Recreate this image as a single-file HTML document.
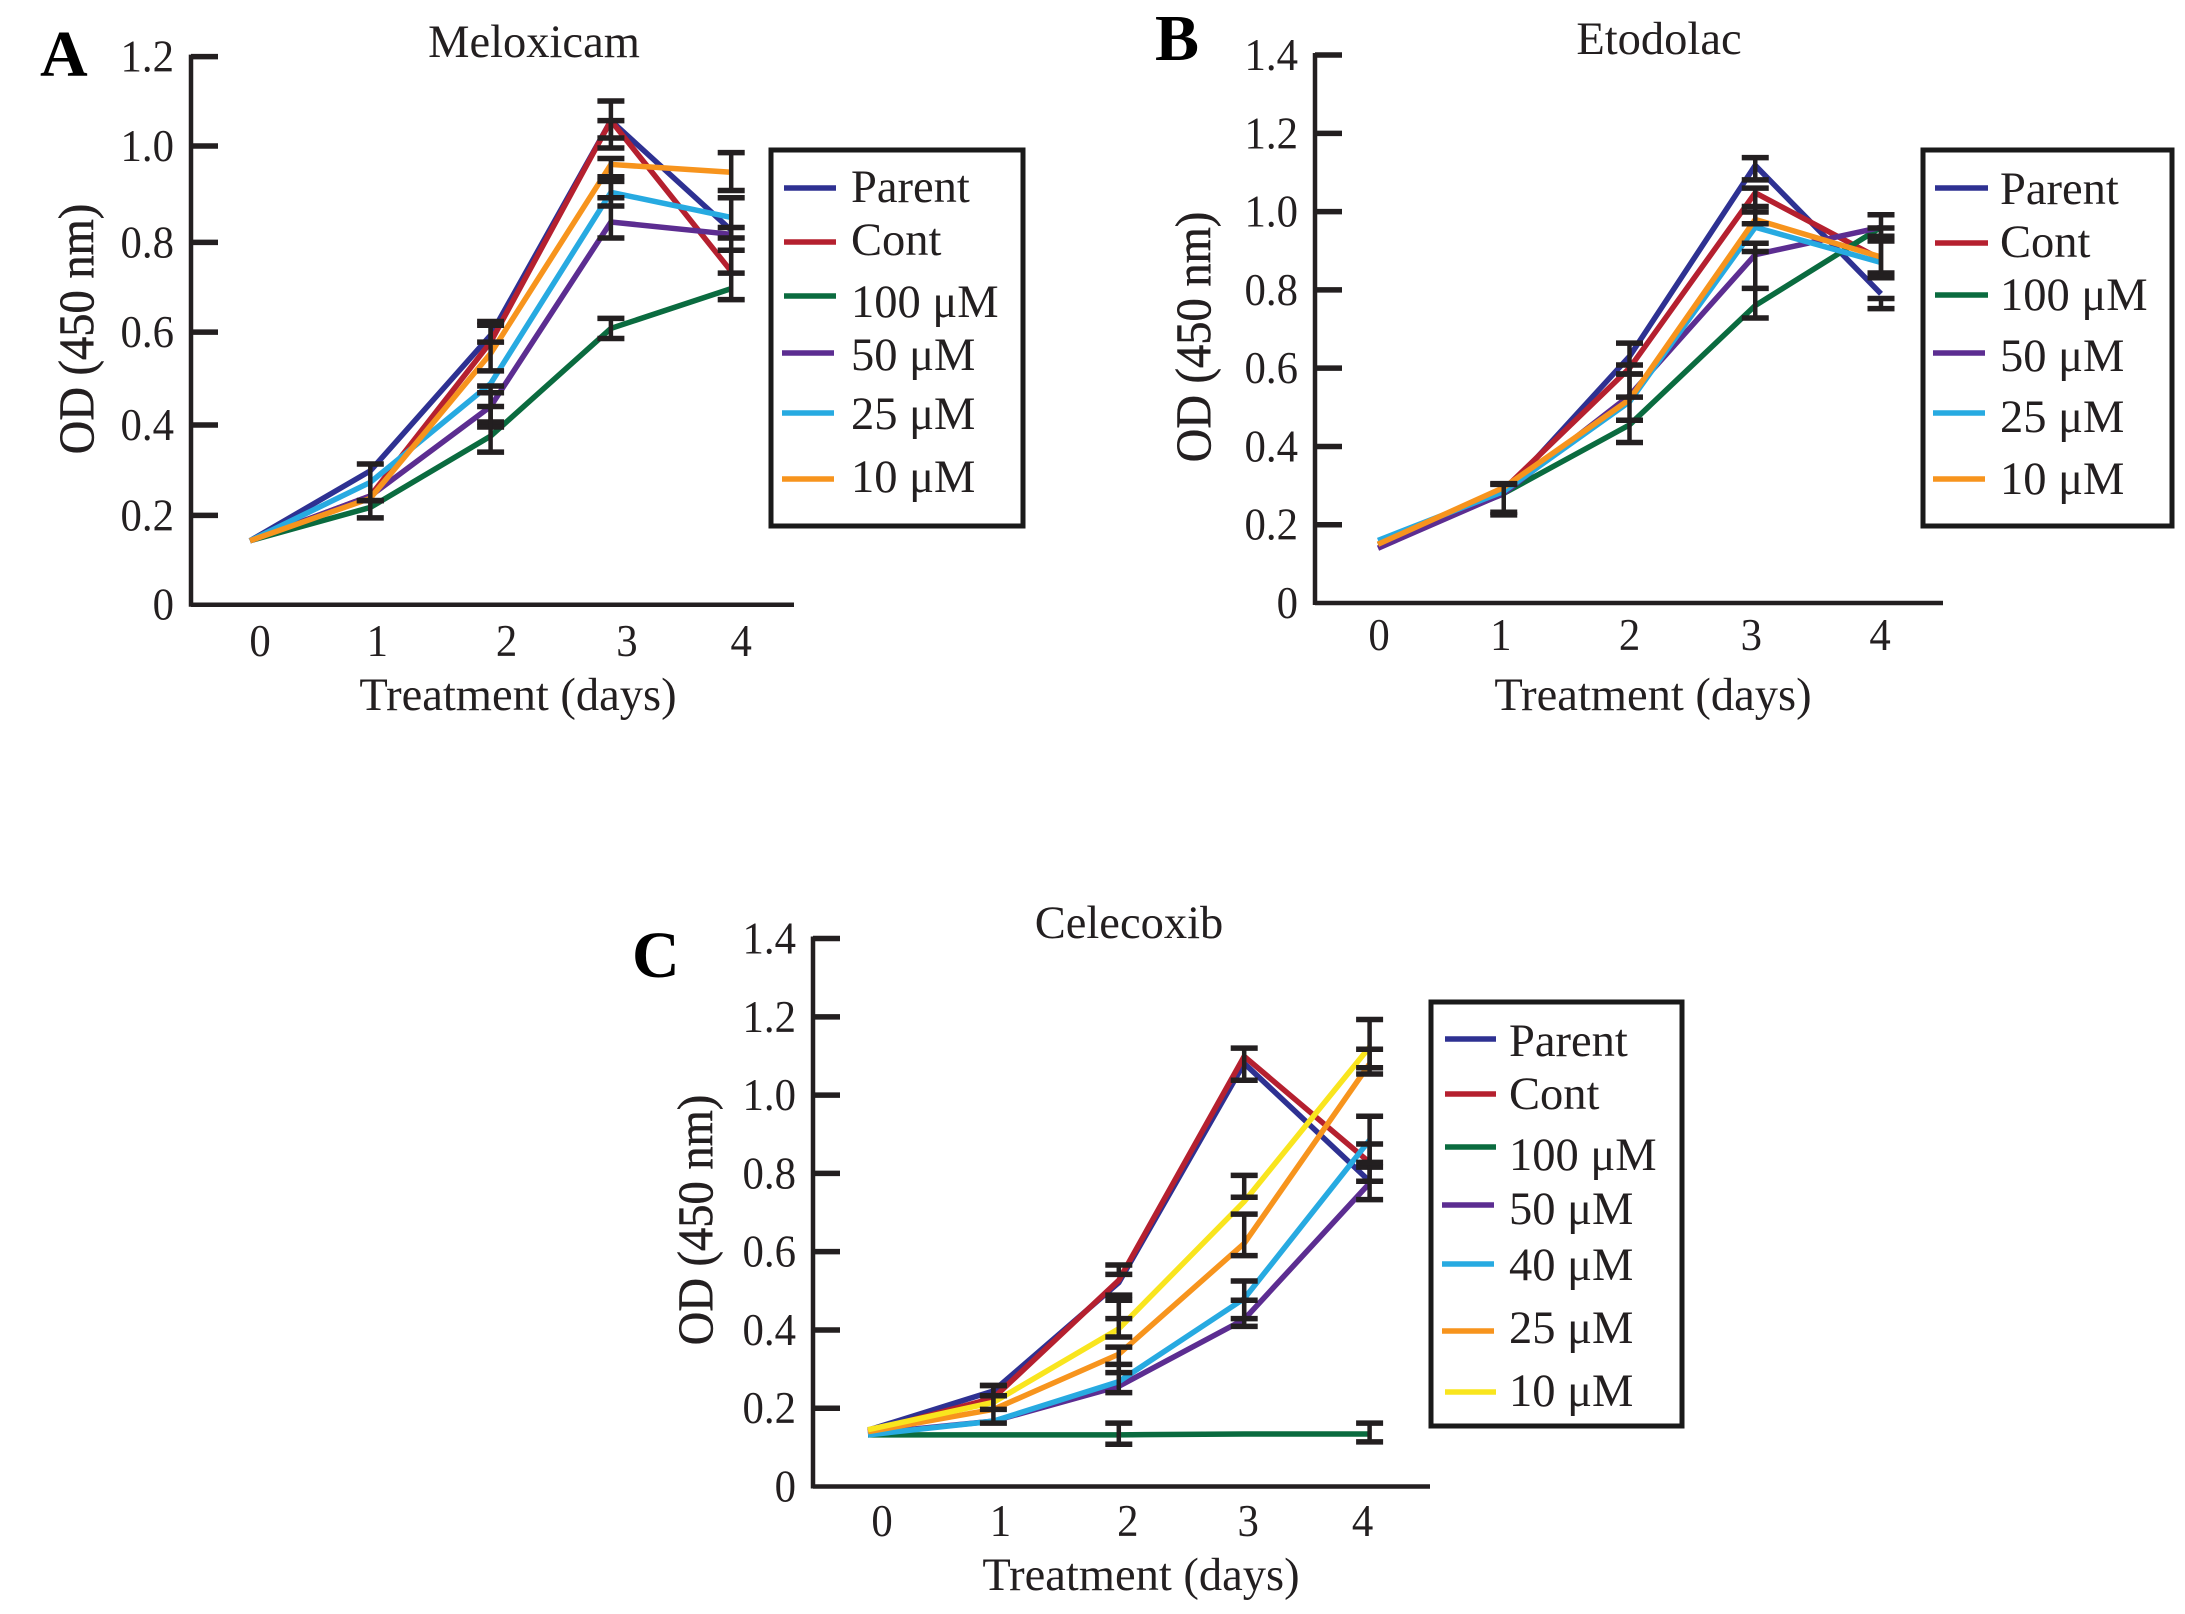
<!DOCTYPE html>
<html lang="en">
<head>
<meta charset="utf-8">
<title>OD growth curves: Meloxicam, Etodolac, Celecoxib</title>
<style>
html,body{margin:0;padding:0;background:#fff;}
svg{display:block;width:2185px;height:1614px;font-family:"Liberation Serif",serif;fill:#231f20;}
.tl{font-size:46px;}
.lg{font-size:46.5px;}
.ti{font-size:46.5px;}
.ax{font-size:46.5px;}
.yt{font-size:46.5px;stroke:#231f20;stroke-width:.5;}
.pn{font-size:66px;font-weight:bold;fill:#000;}
.box{fill:none;stroke:#1a1a1a;stroke-width:5;}
.sw{stroke-width:5.5;fill:none;}
</style>
</head>
<body>
<svg id="figure" xmlns="http://www.w3.org/2000/svg" width="2185" height="1614" viewBox="0 0 2185 1614">
  <rect width="2185" height="1614" fill="#fff"/>

  <g id="panel-a">
    <text class="pn" x="40" y="76">A</text>
    <text class="ti" x="534" y="57" text-anchor="middle">Meloxicam</text>
    <text class="ax" x="518" y="710" text-anchor="middle">Treatment (days)</text>
    <text class="yt" transform="translate(93 329) rotate(-90) scale(1,1.08)" text-anchor="middle">OD (450 nm)</text>
    <g>
      <rect class="box" x="771" y="150" width="252" height="376"/>
      <line class="sw" x1="784" x2="836" y1="188" y2="188" stroke="#2e3192"/>
      <text class="lg" x="851" y="202">Parent</text>
      <line class="sw" x1="784" x2="836" y1="242" y2="242" stroke="#b5202f"/>
      <text class="lg" x="851" y="255">Cont</text>
      <line class="sw" x1="784" x2="836" y1="296" y2="296" stroke="#0a6b3f"/>
      <text class="lg" x="851" y="317">100 μM</text>
      <line class="sw" x1="782" x2="834" y1="353" y2="353" stroke="#5c2d91"/>
      <text class="lg" x="851" y="370">50 μM</text>
      <line class="sw" x1="782" x2="834" y1="413" y2="413" stroke="#27aae1"/>
      <text class="lg" x="851" y="429">25 μM</text>
      <line class="sw" x1="782" x2="834" y1="479" y2="479" stroke="#f7941d"/>
      <text class="lg" x="851" y="492">10 μM</text>
    </g>
  </g>

  <g id="panel-b">
    <text class="pn" x="1155" y="60">B</text>
    <text class="ti" x="1659" y="54" text-anchor="middle">Etodolac</text>
    <text class="ax" x="1653" y="710" text-anchor="middle">Treatment (days)</text>
    <text class="yt" transform="translate(1210 337) rotate(-90) scale(1,1.08)" text-anchor="middle">OD (450 nm)</text>
    <g>
      <rect class="box" x="1923" y="150" width="249" height="376"/>
      <line class="sw" x1="1935" x2="1988" y1="188" y2="188" stroke="#2e3192"/>
      <text class="lg" x="2000" y="204">Parent</text>
      <line class="sw" x1="1935" x2="1988" y1="243" y2="243" stroke="#b5202f"/>
      <text class="lg" x="2000" y="257">Cont</text>
      <line class="sw" x1="1935" x2="1988" y1="295" y2="295" stroke="#0a6b3f"/>
      <text class="lg" x="2000" y="310">100 μM</text>
      <line class="sw" x1="1933" x2="1985" y1="353" y2="353" stroke="#5c2d91"/>
      <text class="lg" x="2000" y="371">50 μM</text>
      <line class="sw" x1="1933" x2="1985" y1="413" y2="413" stroke="#27aae1"/>
      <text class="lg" x="2000" y="432">25 μM</text>
      <line class="sw" x1="1933" x2="1985" y1="479" y2="479" stroke="#f7941d"/>
      <text class="lg" x="2000" y="494">10 μM</text>
    </g>
  </g>

  <g id="panel-c">
    <text class="pn" x="632" y="977">C</text>
    <text class="ti" x="1129" y="938" text-anchor="middle">Celecoxib</text>
    <text class="ax" x="1141" y="1590" text-anchor="middle">Treatment (days)</text>
    <text class="yt" transform="translate(712 1220) rotate(-90) scale(1,1.08)" text-anchor="middle">OD (450 nm)</text>
    <g>
      <rect class="box" x="1431" y="1002" width="251" height="424"/>
      <line class="sw" x1="1445" x2="1496" y1="1039" y2="1039" stroke="#2e3192"/>
      <text class="lg" x="1509" y="1056">Parent</text>
      <line class="sw" x1="1445" x2="1496" y1="1094" y2="1094" stroke="#b5202f"/>
      <text class="lg" x="1509" y="1109">Cont</text>
      <line class="sw" x1="1445" x2="1496" y1="1147" y2="1147" stroke="#0a6b3f"/>
      <text class="lg" x="1509" y="1170">100 μM</text>
      <line class="sw" x1="1442" x2="1494" y1="1205" y2="1205" stroke="#5c2d91"/>
      <text class="lg" x="1509" y="1224">50 μM</text>
      <line class="sw" x1="1442" x2="1494" y1="1264" y2="1264" stroke="#27aae1"/>
      <text class="lg" x="1509" y="1280">40 μM</text>
      <line class="sw" x1="1442" x2="1494" y1="1331" y2="1331" stroke="#f7941d"/>
      <text class="lg" x="1509" y="1343">25 μM</text>
      <line class="sw" x1="1445" x2="1496" y1="1392" y2="1392" stroke="#f9e51e"/>
      <text class="lg" x="1509" y="1406">10 μM</text>
    </g>
  </g>
</svg>

<script>
// Shared axis labels
const days = [0, 1, 2, 3, 4];
const ticksToOnePointTwo = [0, 0.2, 0.4, 0.6, 0.8, 1.0, 1.2];
const ticksToOnePointFour = [0, 0.2, 0.4, 0.6, 0.8, 1.0, 1.2, 1.4];

// Panel A: Meloxicam
const aParent = [0.14, 0.293, 0.59, 1.06, 0.82];
const aCont = [0.14, 0.238, 0.575, 1.06, 0.73];
const a100 = [0.14, 0.213, 0.369, 0.605, 0.692];
const a50 = [0.14, 0.238, 0.434, 0.838, 0.811];
const a25 = [0.14, 0.268, 0.484, 0.903, 0.848];
const a10 = [0.14, 0.233, 0.55, 0.964, 0.947];
const aBarDays = [1, 1, 2, 2, 2, 2, 2, 3, 3, 3, 3, 3, 3, 4, 4, 4, 4];
const aBarHigh = [0.308, 0.228, 0.62, 0.612, 0.479, 0.464, 0.434, 1.103, 1.06, 0.977, 0.937, 0.927, 0.627, 0.99, 0.891, 0.826, 0.776];
const aBarLow = [0.228, 0.19, 0.512, 0.575, 0.40, 0.389, 0.334, 1.022, 1.0, 0.891, 0.873, 0.803, 0.583, 0.907, 0.803, 0.726, 0.668];

// Panel B: Etodolac
const bParent = [0.15, 0.279, 0.63, 1.118, 0.79];
const bCont = [0.15, 0.29, 0.60, 1.048, 0.878];
const b100 = [0.15, 0.28, 0.455, 0.76, 0.96];
const b50 = [0.14, 0.28, 0.53, 0.89, 0.96];
const b25 = [0.16, 0.285, 0.514, 0.96, 0.87];
const b10 = [0.15, 0.295, 0.52, 0.98, 0.884];
const bBarDays = [1, 1, 2, 2, 2, 2, 3, 3, 3, 3, 3, 4, 4, 4, 4];
const bBarHigh = [0.305, 0.303, 0.664, 0.608, 0.585, 0.467, 1.138, 1.06, 1.013, 0.919, 0.898, 0.992, 0.958, 0.937, 0.778];
const bBarLow = [0.225, 0.232, 0.585, 0.526, 0.467, 0.41, 1.081, 0.999, 0.969, 0.804, 0.728, 0.925, 0.843, 0.831, 0.752];

// Panel C: Celecoxib
const cParent = [0.144, 0.244, 0.521, 1.081, 0.78];
const cCont = [0.14, 0.226, 0.527, 1.099, 0.828];
const c100 = [0.132, 0.132, 0.132, 0.134, 0.134];
const c50 = [0.135, 0.167, 0.256, 0.427, 0.775];
const c40 = [0.132, 0.167, 0.268, 0.48, 0.885];
const c25 = [0.14, 0.197, 0.338, 0.621, 1.08];
const c10 = [0.145, 0.215, 0.403, 0.728, 1.123];
const cBarDays = [1, 1, 1, 2, 2, 2, 2, 2, 2, 3, 3, 3, 3, 3, 4, 4, 4, 4, 4, 4];
const cBarHigh = [0.258, 0.258, 0.232, 0.566, 0.489, 0.476, 0.356, 0.312, 0.162, 1.12, 0.795, 0.696, 0.525, 0.476, 1.193, 1.117, 0.946, 0.875, 0.828, 0.162];
const cBarLow = [0.232, 0.197, 0.162, 0.542, 0.429, 0.382, 0.291, 0.24, 0.108, 1.038, 0.739, 0.59, 0.429, 0.409, 1.07, 1.054, 0.816, 0.733, 0.78, 0.114];

const NS = 'http://www.w3.org/2000/svg';
const PARENT_COLOR = '#2e3192';
const CONT_COLOR = '#b5202f';
const GREEN_COLOR = '#0a6b3f';
const PURPLE_COLOR = '#5c2d91';
const BLUE_COLOR = '#27aae1';
const ORANGE_COLOR = '#f7941d';
const YELLOW_COLOR = '#f9e51e';

function makeLine(parent, x1, y1, x2, y2, color, width) {
  const el = document.createElementNS(NS, 'line');
  el.setAttribute('x1', x1);
  el.setAttribute('y1', y1);
  el.setAttribute('x2', x2);
  el.setAttribute('y2', y2);
  el.setAttribute('stroke', color);
  el.setAttribute('stroke-width', width);
  parent.appendChild(el);
  return el;
}

function drawPanel(panelId, frame, tickValues, series, barDays, barHigh, barLow) {
  const root = document.getElementById(panelId);
  const xScale = function (d) { return frame.x0 + frame.dx * d; };
  const yScale = function (v) { return frame.y0 - frame.ppu * v; };
  const ink = '#231f20';
  const top = yScale(tickValues[tickValues.length - 1]);

  const yAxis = makeLine(root, frame.axisX, top - 2, frame.axisX, frame.y0 + 2, ink, 4.5);
  
  
  const xAxis = makeLine(root, frame.axisX, frame.y0, frame.axisEnd, frame.y0, ink, 4.5);
  
  

  tickValues.forEach(function (v, i) {
    const y = yScale(v) + (frame.tickNudge ? frame.tickNudge[i] : 0);
    if (v > 0) {
      const tick = makeLine(root, frame.axisX, y, frame.axisX + 27, y, ink, 5.5);
      
      
    }
    const label = document.createElementNS(NS, 'text');
    label.setAttribute('class', 'tl');
    label.setAttribute('transform', 'translate(' + (frame.axisX - 17) + ' ' + (y + 15) + ') scale(.93,1)');
    label.setAttribute('text-anchor', 'end');
    label.textContent = v === 0 ? '0' : v.toFixed(1);
    
    
    root.appendChild(label);
  });

  days.forEach(function (d, i) {
    const label = document.createElementNS(NS, 'text');
    label.setAttribute('class', 'tl');
    label.setAttribute('transform', 'translate(' + (xScale(d) + frame.labelShift + frame.labelNudge[i]) + ' ' + frame.labelY + ') scale(.93,1)');
    label.setAttribute('text-anchor', 'middle');
    label.textContent = String(d);
    
    
    root.appendChild(label);
  });

  series.forEach(function (s) {
    const line = document.createElementNS(NS, 'polyline');
    const pts = s.values.map(function (v, i) { return xScale(days[i]) + ',' + yScale(v); });
    line.setAttribute('points', pts.join(' '));
    line.setAttribute('fill', 'none');
    line.setAttribute('stroke', s.color);
    line.setAttribute('stroke-width', '5.5');
    line.setAttribute('stroke-linejoin', 'miter');
    
    
    root.appendChild(line);
  });

  barDays.forEach(function (d, i) {
    const x = xScale(d);
    const hi = yScale(barHigh[i]);
    const lo = yScale(barLow[i]);
    const stem = makeLine(root, x, hi, x, lo, ink, 4.5);
    
    
    const capTop = makeLine(root, x - 13.5, hi, x + 13.5, hi, ink, 5.5);
    
    
    const capBottom = makeLine(root, x - 13.5, lo, x + 13.5, lo, ink, 5.5);
    
    
  });
}

drawPanel('panel-a',
  { x0: 250, dx: 120.3, y0: 604.7, ppu: 456.7, axisX: 191, axisEnd: 794, labelShift: 10, labelY: 656, labelNudge: [0, -3, 6, 6, 0], tickNudge: [0, 2, 3, 1.5, 3, -2, 0] },
  ticksToOnePointTwo,
  [
    { key: 'parent', values: aParent, color: PARENT_COLOR },
    { key: 'cont', values: aCont, color: CONT_COLOR },
    { key: '100um', values: a100, color: GREEN_COLOR },
    { key: '50um', values: a50, color: PURPLE_COLOR },
    { key: '25um', values: a25, color: BLUE_COLOR },
    { key: '10um', values: a10, color: ORANGE_COLOR }
  ],
  aBarDays, aBarHigh, aBarLow);

drawPanel('panel-b',
  { x0: 1378, dx: 125.75, y0: 603, ppu: 391.4, axisX: 1315, axisEnd: 1943, labelShift: 0, labelY: 650, labelNudge: [1, -3, 0, -4, -1] },
  ticksToOnePointFour,
  [
    { key: 'parent', values: bParent, color: PARENT_COLOR },
    { key: 'cont', values: bCont, color: CONT_COLOR },
    { key: '100um', values: b100, color: GREEN_COLOR },
    { key: '50um', values: b50, color: PURPLE_COLOR },
    { key: '25um', values: b25, color: BLUE_COLOR },
    { key: '10um', values: b10, color: ORANGE_COLOR }
  ],
  bBarDays, bBarHigh, bBarLow);

drawPanel('panel-c',
  { x0: 868, dx: 125.4, y0: 1486.5, ppu: 391.4, axisX: 813, axisEnd: 1430, labelShift: 3, labelY: 1536, labelNudge: [11, 4, 6, 1, -10] },
  ticksToOnePointFour,
  [
    { key: 'parent', values: cParent, color: PARENT_COLOR },
    { key: 'cont', values: cCont, color: CONT_COLOR },
    { key: '100um', values: c100, color: GREEN_COLOR },
    { key: '50um', values: c50, color: PURPLE_COLOR },
    { key: '40um', values: c40, color: BLUE_COLOR },
    { key: '25um', values: c25, color: ORANGE_COLOR },
    { key: '10um', values: c10, color: YELLOW_COLOR }
  ],
  cBarDays, cBarHigh, cBarLow);
</script>
</body>
</html>
